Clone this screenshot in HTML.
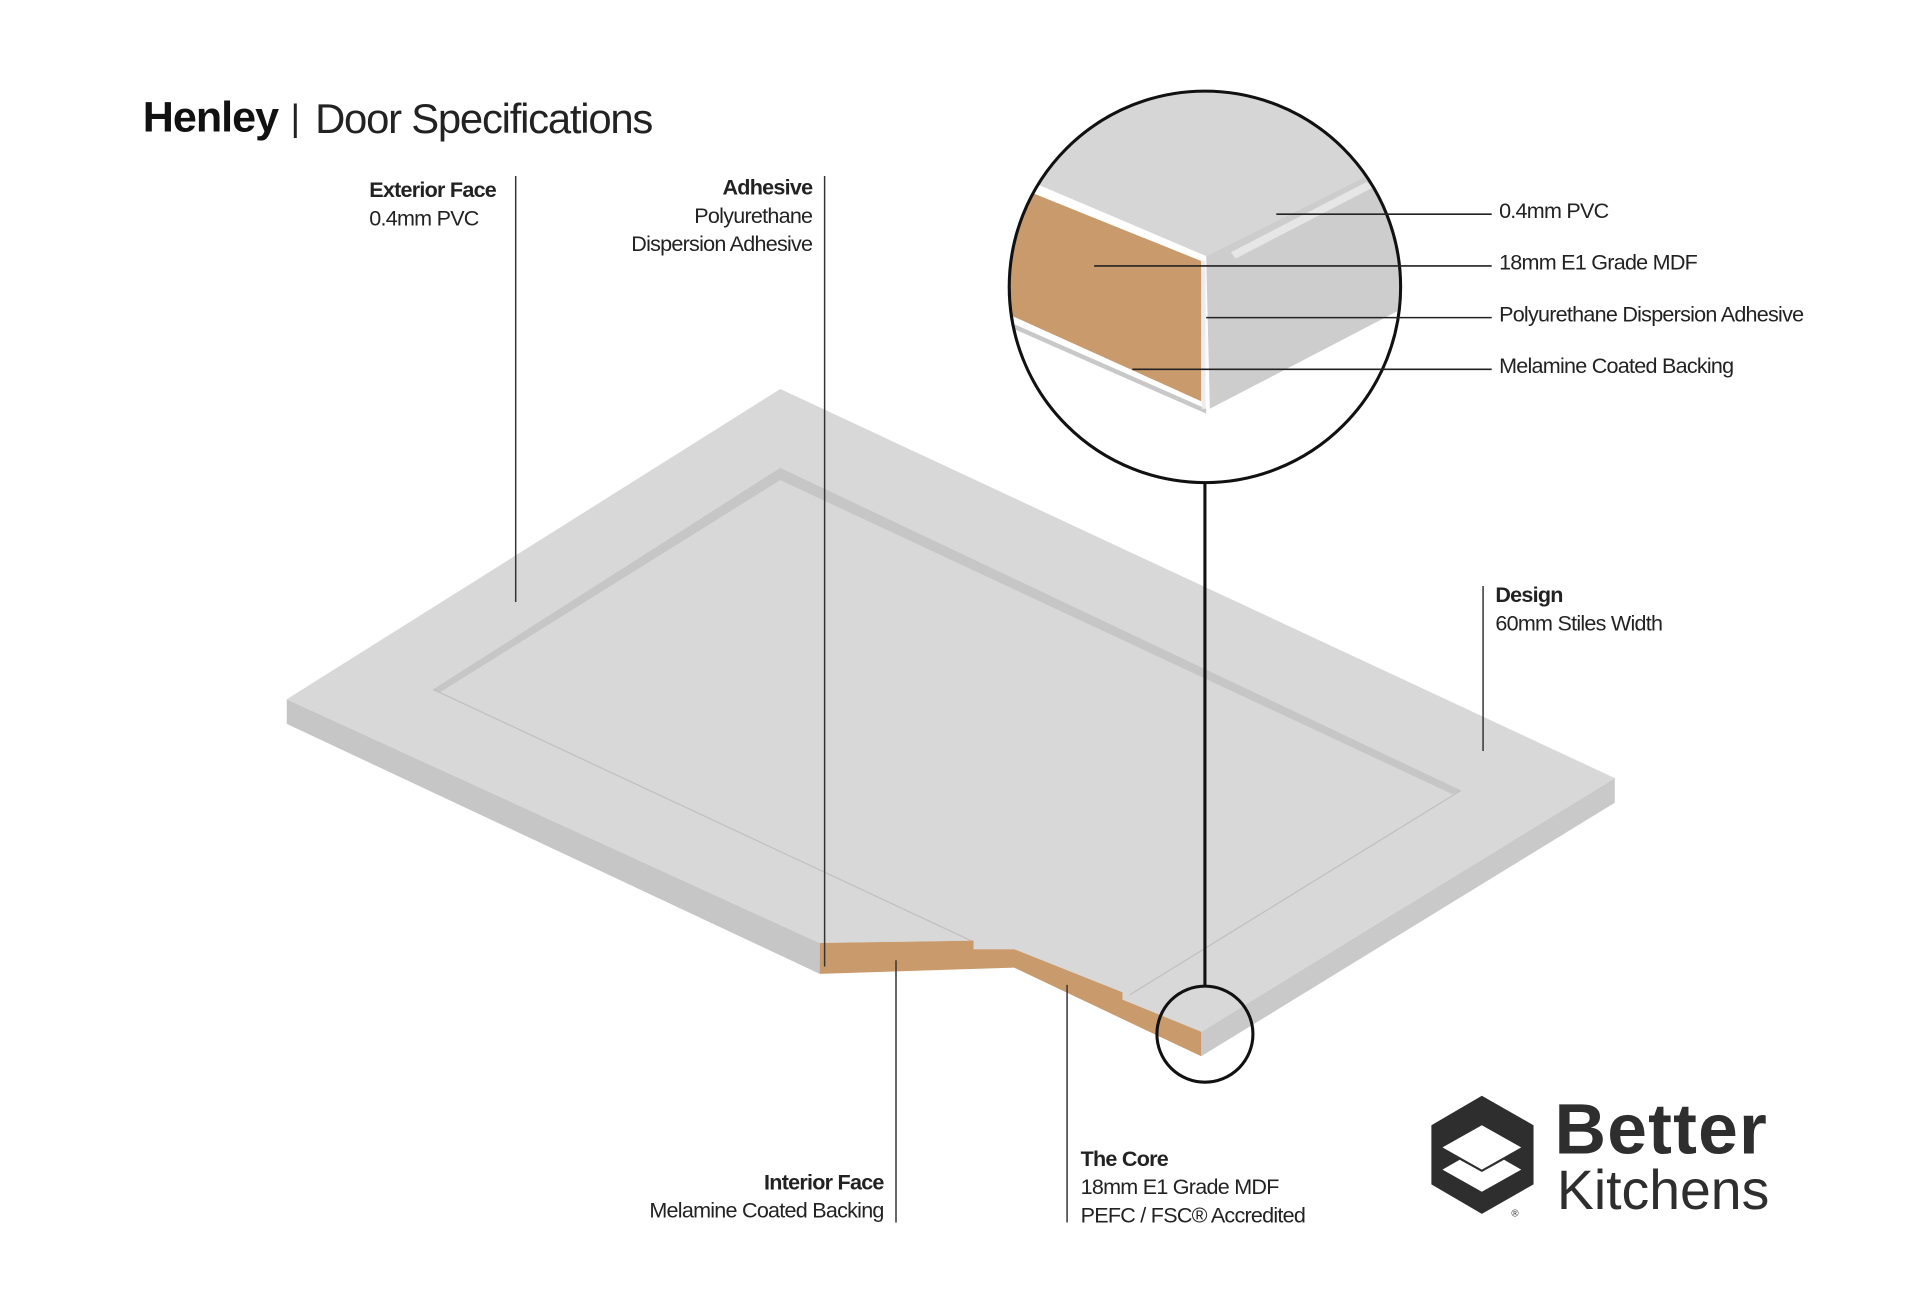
<!DOCTYPE html>
<html><head><meta charset="utf-8"><style>
html,body{margin:0;padding:0;background:#fff;}
svg{display:block;}
text{font-family:"Liberation Sans",sans-serif;fill:#222;}
.b{font-weight:bold;}
.s{font-size:17.5px;letter-spacing:-0.6px;}
</style></head><body>
<svg width="1920" height="1305" viewBox="0 0 1560 1060" preserveAspectRatio="none" xmlns="http://www.w3.org/2000/svg">
<defs>
<clipPath id="cc"><circle cx="979" cy="233" r="159"/></clipPath>
</defs>
<!-- title -->
<text x="116" y="107" class="b" style="font-size:35px;letter-spacing:-0.8px;fill:#111">Henley</text>
<text x="236" y="106" style="font-size:30px;fill:#222">|</text>
<text x="256" y="108" style="font-size:34px;letter-spacing:-1px;fill:#222">Door Specifications</text>

<!-- door -->
<polygon points="233,568 666,766 666,791 233,588" fill="#c6c6c6"/>
<polygon points="976,838 1312,632 1312,652 976,858" fill="#c9c9c9"/>
<polygon points="634,316 1312,632 976,838 912,812 912,806 824,771 791,771 791,764 666,766 233,568" fill="#d8d8d8"/>
<!-- recess -->
<polygon points="634,380 1187,642 1180,645 634,390 358,562 352,560" fill="#c6c6c6"/>
<line x1="352" y1="560" x2="791" y2="765" stroke="#c0c0c0" stroke-width="1"/>
<line x1="1187" y1="642" x2="918" y2="808" stroke="#c0c0c0" stroke-width="1"/>
<!-- MDF cut -->
<polygon points="666,766 791,764 791,771 824,771 912,806 912,812 976,838 976,858 824,786 666,791" fill="#c99a6c"/>

<!-- zoom circle contents -->
<g clip-path="url(#cc)">
<polygon points="800,60 1160,60 1160,118 980,208 820,140" fill="#d6d6d6"/>
<polygon points="980,208 1160,118 1160,240 983,332" fill="#cdcdcd"/>
<polygon points="1000,205 1110,148 1116,152 1004,210" fill="#e6e6e6"/>
<polygon points="812,140 980,208 980,212 812,146" fill="#fff"/>
<polygon points="812,146 976,212 976,326 812,252" fill="#c99a6c"/>
<polygon points="812,252 976,326 976,330 812,258" fill="#fff"/>
<polygon points="812,258 980,332 980,336 812,262" fill="#c8c8c8"/>
<line x1="978" y1="212" x2="978" y2="332" stroke="#ececec" stroke-width="3"/>
</g>
<circle cx="979" cy="233" r="159" fill="none" stroke="#111" stroke-width="2.5"/>
<line x1="979" y1="392" x2="979" y2="801" stroke="#111" stroke-width="2.5"/>
<circle cx="979" cy="840" r="39" fill="none" stroke="#111" stroke-width="2.5"/>

<!-- zoom labels -->
<g stroke="#222" stroke-width="1.3">
<line x1="1037" y1="174" x2="1212" y2="174"/>
<line x1="889" y1="216" x2="1212" y2="216"/>
<line x1="980" y1="258" x2="1212" y2="258"/>
<line x1="920" y1="300" x2="1212" y2="300"/>
</g>
<text x="1218" y="177" class="s">0.4mm PVC</text>
<text x="1218" y="219" class="s">18mm E1 Grade MDF</text>
<text x="1218" y="261" class="s">Polyurethane Dispersion Adhesive</text>
<text x="1218" y="303" class="s">Melamine Coated Backing</text>

<!-- leader lines -->
<g stroke="#333" stroke-width="1.2">
<line x1="419" y1="143" x2="419" y2="489"/>
<line x1="670" y1="143" x2="670" y2="785"/>
<line x1="1205" y1="476" x2="1205" y2="610"/>
<line x1="728" y1="780" x2="728" y2="993"/>
<line x1="867" y1="800" x2="867" y2="993"/>
</g>
<text x="300" y="160" class="s b">Exterior Face</text>
<text x="300" y="183" class="s">0.4mm PVC</text>
<text x="660" y="158" class="s b" text-anchor="end">Adhesive</text>
<text x="660" y="181" class="s" text-anchor="end">Polyurethane</text>
<text x="660" y="204" class="s" text-anchor="end">Dispersion Adhesive</text>
<text x="1215" y="489" class="s b">Design</text>
<text x="1215" y="512" class="s">60mm Stiles Width</text>
<text x="718" y="966" class="s b" text-anchor="end">Interior Face</text>
<text x="718" y="989" class="s" text-anchor="end">Melamine Coated Backing</text>
<text x="878" y="947" class="s b">The Core</text>
<text x="878" y="970" class="s">18mm E1 Grade MDF</text>
<text x="878" y="993" class="s">PEFC / FSC® Accredited</text>

<!-- logo -->
<polygon points="1204,890 1246,914 1246,962 1204,986 1163,962 1163,914" fill="#2e2e2e"/>
<polygon points="1204,914 1236,932 1204,950 1172,932" fill="#fff"/>
<polygon points="1172,950 1186,942 1204,952 1222,942 1236,950 1204,968" fill="#fff"/>
<text x="1228" y="988" style="font-size:8px;fill:#333">®</text>
<text x="1263" y="937" class="b" style="font-size:58px;fill:#2e2e2e;letter-spacing:1px">Better</text>
<text x="1265" y="982" style="font-size:45px;fill:#2e2e2e">Kitchens</text>
</svg>
</body></html>
